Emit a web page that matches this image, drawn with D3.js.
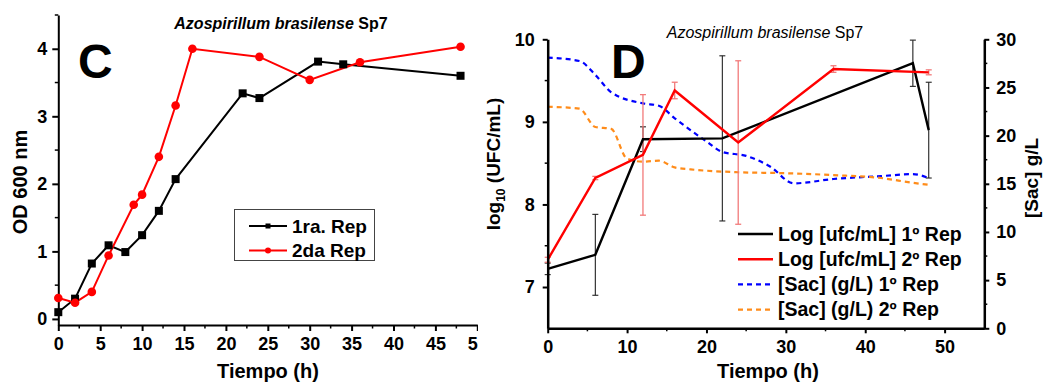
<!DOCTYPE html>
<html>
<head>
<meta charset="utf-8">
<script src="https://cdn.jsdelivr.net/npm/d3@7"></script>
<style>
  html, body { margin: 0; padding: 0; background: #fff; }
  svg { display: block; font-family: "Liberation Sans", Arial, sans-serif; }
</style>
</head>
<body>
<svg id="chart" width="1046" height="383"></svg>
<script>
// ---- Panel C: optical density (OD 600 nm) ----
const cTime1 = [0, 2, 4, 6, 8, 10, 12, 14, 22, 24, 31, 34, 48];
const cOD1   = [0.10, 0.30, 0.82, 1.09, 0.99, 1.24, 1.60, 2.07, 3.34, 3.27, 3.81, 3.77, 3.60];
const cTime2 = [0, 2, 4, 6, 9, 10, 12, 14, 16, 24, 30, 36, 48];
const cOD2   = [0.31, 0.24, 0.40, 0.94, 1.69, 1.84, 2.40, 3.16, 4.00, 3.88, 3.54, 3.80, 4.03];
const cXTicks = [0, 5, 10, 15, 20, 25, 30, 35, 40, 45, 50];
const cYTicks = [0, 1, 2, 3, 4];
const cLegend = ["1ra. Rep", "2da Rep"];

// ---- Panel D: viable counts and sucrose ----
const dTime1 = [0, 6, 12, 22, 46, 48];
const dLog1  = [7.22, 7.39, 8.79, 8.80, 9.71, 8.90];
const dErr1  = [0.07, 0.49, 0.15, 1.00, 0.28, 0.58];
const dTime2 = [0, 6, 12, 16, 24, 36, 48];
const dLog2  = [7.33, 8.32, 8.60, 9.38, 8.75, 9.64, 9.60];
const dErr2  = [0.03, 0.02, 0.73, 0.10, 0.99, 0.04, 0.03];
const sacTime1 = [0, 4, 6, 8, 12, 14, 16, 20, 22, 25, 28, 31, 36, 42, 46, 48];
const sacVal1  = [28.1, 27.75, 26.3, 24.5, 23.35, 23.1, 21.8, 19.4, 18.3, 17.9, 16.8, 15.05, 15.5, 15.8, 16.0, 15.6];
const sacTime2 = [0, 4, 6, 8, 10, 12, 14, 16, 18, 24, 30, 36, 42, 46, 48];
const sacVal2  = [23.0, 22.8, 20.9, 20.7, 17.6, 17.3, 17.4, 16.7, 16.5, 16.2, 16.1, 15.9, 15.6, 15.1, 14.9];
const dXTicks = [0, 10, 20, 30, 40, 50];
const dYTicks = [7, 8, 9, 10];
const dY2Ticks = [0, 5, 10, 15, 20, 25, 30];
const dLegend = ["Log [ufc/mL] 1º Rep", "Log [ufc/mL] 2º Rep", "[Sac] (g/L) 1º Rep", "[Sac] (g/L) 2º Rep"];

const svg = d3.select("#chart");
svg.append("rect").attr("width", 1046).attr("height", 383).attr("fill", "#fff");
const fmt = d3.format("d");

function styleAxis(g, width) {
  g.select(".domain").attr("stroke", "#000").attr("stroke-width", width);
  g.selectAll(".tick line").attr("stroke", "#000").attr("stroke-width", 2);
  g.selectAll(".tick text")
    .attr("fill", "#000").attr("font-size", 18).attr("font-weight", "bold")
    .attr("font-family", "'Liberation Sans', Arial, sans-serif");
}
function minorTicks(g, scale, values, orient, len) {
  g.selectAll(null).data(values).enter().append("line")
    .attr("stroke", "#000").attr("stroke-width", 1.5)
    .attr("x1", d => orient === "h" ? scale(d) : 0)
    .attr("x2", d => orient === "h" ? scale(d) : len)
    .attr("y1", d => orient === "h" ? 0 : scale(d))
    .attr("y2", d => orient === "h" ? len : scale(d));
}

// ================= Panel C =================
const cx = d3.scaleLinear().domain([0, 50]).range([58.3, 477.3]);
const cy = d3.scaleLinear().domain([-0.09, 4.5]).range([325, 15]);
const C = svg.append("g");

const cxAxis = C.append("g").attr("transform", "translate(0,325)")
  .call(d3.axisBottom(cx).tickValues(cXTicks).tickSize(6).tickSizeOuter(0).tickPadding(6).tickFormat(fmt));
styleAxis(cxAxis, 2);
minorTicks(C.append("g").attr("transform", "translate(0,325)"), cx, d3.range(2.5, 50, 5), "h", 3.5);

const cyAxis = C.append("g").attr("transform", "translate(58.3,0)")
  .call(d3.axisLeft(cy).tickValues(cYTicks).tickSize(6).tickSizeOuter(0).tickPadding(5).tickFormat(fmt));
styleAxis(cyAxis, 2);
minorTicks(C.append("g").attr("transform", "translate(58.3,0)"), cy, [0.5, 1.5, 2.5, 3.5, 4.5], "v", -3.5);

const cLine = (xs, ys) => d3.line().x((d, i) => cx(xs[i])).y((d, i) => cy(ys[i]))(ys);
C.append("path").attr("d", cLine(cTime1, cOD1)).attr("fill", "none").attr("stroke", "#000").attr("stroke-width", 2);
C.append("path").attr("d", cLine(cTime2, cOD2)).attr("fill", "none").attr("stroke", "#ff0000").attr("stroke-width", 2);
C.selectAll(null).data(cOD1).enter().append("rect")
  .attr("x", (d, i) => cx(cTime1[i]) - 4).attr("y", d => cy(d) - 4)
  .attr("width", 8).attr("height", 8).attr("fill", "#000");
C.selectAll(null).data(cOD2).enter().append("circle")
  .attr("cx", (d, i) => cx(cTime2[i])).attr("cy", d => cy(d)).attr("r", 4.3).attr("fill", "#ff0000");

C.append("text").attr("x", 281).attr("y", 29).attr("text-anchor", "middle")
  .attr("font-size", 16).attr("font-weight", "bold")
  .call(t => {
    t.append("tspan").attr("font-style", "italic").text("Azospirillum brasilense");
    t.append("tspan").text(" Sp7");
  });
C.append("text").attr("x", 78).attr("y", 78).attr("font-size", 48).attr("font-weight", "bold").text("C");
C.append("text").attr("transform", "translate(27,182) rotate(-90)").attr("text-anchor", "middle")
  .attr("font-size", 20).attr("font-weight", "bold").text("OD 600 nm");
C.append("text").attr("x", 268).attr("y", 378).attr("text-anchor", "middle")
  .attr("font-size", 20).attr("font-weight", "bold").text("Tiempo (h)");

// legend C
const lc = C.append("g");
lc.append("rect").attr("x", 234.5).attr("y", 209.5).attr("width", 140).attr("height", 51)
  .attr("fill", "#fff").attr("stroke", "#444").attr("stroke-width", 1);
[["#000", "sq"], ["#ff0000", "ci"]].forEach(([col, m], i) => {
  const y = 226 + i * 24.5;
  lc.append("line").attr("x1", 249).attr("x2", 287).attr("y1", y).attr("y2", y).attr("stroke", col).attr("stroke-width", 2);
  if (m === "sq") lc.append("rect").attr("x", 265.5).attr("y", y - 2.5).attr("width", 5).attr("height", 5).attr("fill", col);
  else lc.append("circle").attr("cx", 268).attr("cy", y).attr("r", 3).attr("fill", col);
  lc.append("text").attr("x", 292).attr("y", y).attr("dy", "0.35em")
    .attr("font-size", 19).attr("font-weight", "bold").text(cLegend[i]);
});

// ================= Panel D =================
const D = svg.append("g");
D.append("rect").attr("x", 478).attr("y", 0).attr("width", 568).attr("height", 383).attr("fill", "#fff");

const dx = d3.scaleLinear().domain([0, 55]).range([547.7, 984.3]);
const dy = d3.scaleLinear().domain([6.5, 10]).range([328.3, 39.3]);
const dy2 = d3.scaleLinear().domain([0, 30]).range([328.3, 39.3]);

// sucrose curves (right axis)
const sacLine = (xs, ys) => d3.line().curve(d3.curveMonotoneX)
  .x((d, i) => dx(xs[i])).y((d, i) => dy2(ys[i]))(ys);
D.append("path").attr("d", sacLine(sacTime1, sacVal1)).attr("fill", "none")
  .attr("stroke", "#0000ff").attr("stroke-width", 2.2).attr("stroke-dasharray", "5,4");
D.append("path").attr("d", sacLine(sacTime2, sacVal2)).attr("fill", "none")
  .attr("stroke", "#ff8c1a").attr("stroke-width", 2.2).attr("stroke-dasharray", "5,4");

// error bars
function errBars(xs, ys, es, col, w) {
  const g = D.append("g").attr("stroke", col).attr("stroke-width", w);
  ys.forEach((v, i) => {
    const x = dx(xs[i]), y1 = dy(v - es[i]), y2 = dy(v + es[i]);
    g.append("line").attr("x1", x).attr("x2", x).attr("y1", y1).attr("y2", y2);
    g.append("line").attr("x1", x - 3).attr("x2", x + 3).attr("y1", y1).attr("y2", y1);
    g.append("line").attr("x1", x - 3).attr("x2", x + 3).attr("y1", y2).attr("y2", y2);
  });
}
errBars(dTime1, dLog1, dErr1, "#222", 1.1);
errBars(dTime2, dLog2, dErr2, "#f27a7a", 1.3);

const dLine = (xs, ys) => d3.line().x((d, i) => dx(xs[i])).y((d, i) => dy(ys[i]))(ys);
D.append("path").attr("d", dLine(dTime1, dLog1)).attr("fill", "none").attr("stroke", "#000").attr("stroke-width", 2.4);
D.append("path").attr("d", dLine(dTime2, dLog2)).attr("fill", "none").attr("stroke", "#ff0000").attr("stroke-width", 2.4);

// axes
const dxAxis = D.append("g").attr("transform", "translate(0,328.3)")
  .call(d3.axisBottom(dx).tickValues(dXTicks).tickSize(5).tickSizeOuter(0).tickPadding(7).tickFormat(fmt));
styleAxis(dxAxis, 2.5);
minorTicks(D.append("g").attr("transform", "translate(0,328.3)"), dx, [5, 15, 25, 35, 45], "h", 3);

const dyAxis = D.append("g").attr("transform", "translate(547.7,0)")
  .call(d3.axisLeft(dy).tickValues(dYTicks).tickSize(5).tickSizeOuter(0).tickPadding(8).tickFormat(fmt));
styleAxis(dyAxis, 2.5);
minorTicks(D.append("g").attr("transform", "translate(547.7,0)"), dy, [7.5, 8.5, 9.5], "v", -3);

const dy2Axis = D.append("g").attr("transform", "translate(984.3,0)")
  .call(d3.axisRight(dy2).tickValues(dY2Ticks).tickSize(5).tickSizeOuter(0).tickPadding(7).tickFormat(fmt));
styleAxis(dy2Axis, 2.5);
minorTicks(D.append("g").attr("transform", "translate(984.3,0)"), dy2, d3.range(2.5, 30, 5), "v", 3);

D.append("text").attr("x", 765).attr("y", 38).attr("text-anchor", "middle").attr("font-size", 16)
  .call(t => {
    t.append("tspan").attr("font-style", "italic").text("Azospirillum brasilense");
    t.append("tspan").text(" Sp7");
  });
D.append("text").attr("x", 611).attr("y", 78).attr("font-size", 48).attr("font-weight", "bold").text("D");

D.append("text").attr("transform", "translate(500,164) rotate(-90)").attr("text-anchor", "middle")
  .attr("font-size", 19).attr("font-weight", "bold")
  .call(t => {
    t.append("tspan").text("log");
    t.append("tspan").attr("font-size", 12).attr("dy", 5).text("10");
    t.append("tspan").attr("dy", -5).text(" (UFC/mL)");
  });
D.append("text").attr("transform", "translate(1038,178) rotate(-90)").attr("text-anchor", "middle")
  .attr("font-size", 19).attr("font-weight", "bold").text("[Sac] g/L");
D.append("text").attr("x", 768).attr("y", 378).attr("text-anchor", "middle")
  .attr("font-size", 20).attr("font-weight", "bold").text("Tiempo (h)");

// legend D
const dStyles = [["#000", null], ["#ff0000", null], ["#0000ff", "5,4"], ["#ff8c1a", "5,4"]];
dStyles.forEach(([col, dash], i) => {
  const y = 234 + i * 25.2;
  const ln = D.append("line").attr("x1", 738).attr("x2", 773).attr("y1", y).attr("y2", y)
    .attr("stroke", col).attr("stroke-width", dash ? 2.2 : 2.4);
  if (dash) ln.attr("stroke-dasharray", dash);
  D.append("text").attr("x", 778).attr("y", y).attr("dy", "0.35em")
    .attr("font-size", 19.5).attr("font-weight", "bold").text(dLegend[i]);
});
</script>
</body>
</html>
